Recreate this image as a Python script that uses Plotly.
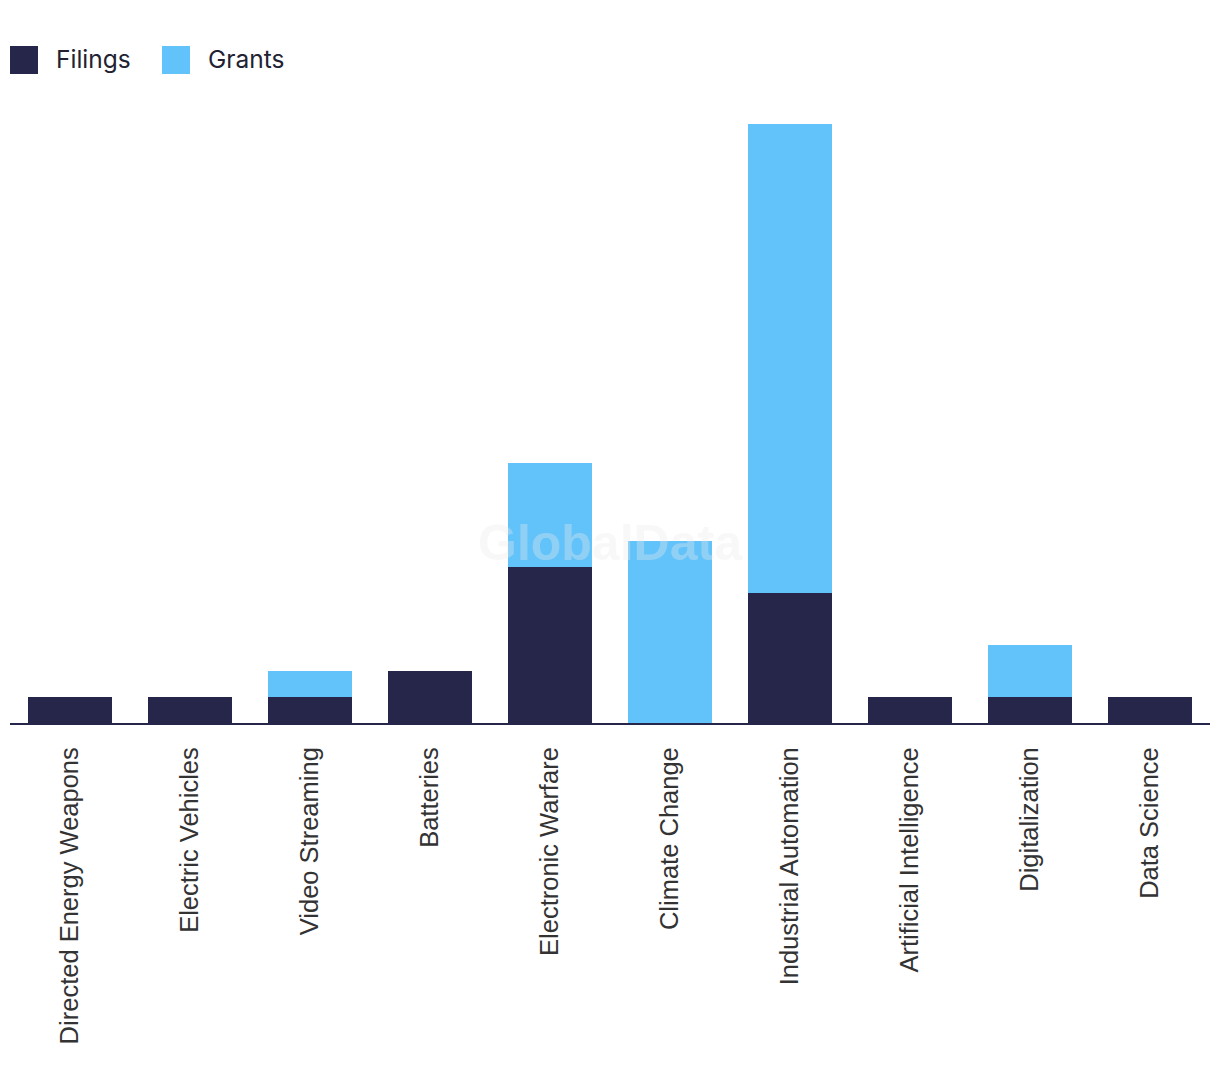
import plotly.graph_objects as go

categories = ["Directed Energy Weapons", "Electric Vehicles", "Video Streaming", "Batteries",
              "Electronic Warfare", "Climate Change", "Industrial Automation",
              "Artificial Intelligence", "Digitalization", "Data Science"]
filings = [1, 1, 1, 2, 6, 0, 5, 1, 1, 1]
grants = [0, 0, 1, 0, 4, 7, 18, 0, 2, 0]

NAVY = "#26264a"
BLUE = "#62c2fa"

fig = go.Figure()
fig.add_trace(go.Bar(x=categories, y=filings, name="Filings", marker=dict(color=NAVY, line=dict(width=0))))
fig.add_trace(go.Bar(x=categories, y=grants, name="Grants", marker=dict(color=BLUE, line=dict(width=0))))

fig.update_layout(
    barmode="stack",
    bargap=0.3,
    width=1220, height=1090,
    margin=dict(l=2, r=18, t=116, b=375, pad=0),
    paper_bgcolor="white", plot_bgcolor="white",
    showlegend=False,
    font=dict(family="Liberation Sans, Arial, sans-serif", color="#333333"),
)
fig.update_xaxes(
    tickangle=-90, tickfont=dict(size=25.5, color="#333333", family="Liberation Sans, Arial, sans-serif"),
    showline=True, linecolor=NAVY, linewidth=2, ticks="", showgrid=False,
    ticklabelstandoff=12,
)
fig.update_yaxes(range=[0, 23], visible=False, showgrid=False, zeroline=False)

# custom legend
legend_items = [("Filings", NAVY, 10, 54), ("Grants", BLUE, 162, 206)]
for name, col, sx, tx in legend_items:
    fig.add_shape(type="rect", xref="paper", yref="paper",
                  x0=(sx - 10) / 1200, x1=(sx + 28 - 10) / 1200,
                  y0=(723 - 74) / 599, y1=(723 - 46) / 599,
                  fillcolor=col, line=dict(width=0))
    fig.add_annotation(text=name, xref="paper", yref="paper",
                       x=(tx - 10) / 1200, y=(723 - 59) / 599, xanchor="left", yanchor="middle",
                       showarrow=False, font=dict(size=24.5, color="#222233", family="Inter, Roboto, sans-serif"))

fig.add_annotation(text="<b>GlobalData</b>", xref="paper", yref="paper", x=0.5, y=(723 - 573) / 599,
                   showarrow=False, font=dict(size=50, color="rgba(235,235,235,0.35)",
                                              family="Liberation Sans, Arial, sans-serif"))

fig.write_html("out.html")
